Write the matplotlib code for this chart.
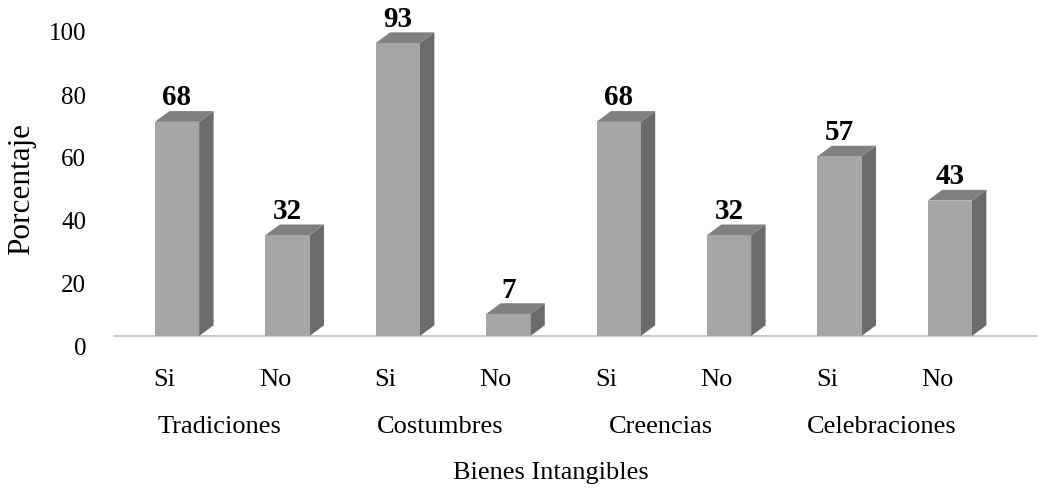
import matplotlib
matplotlib.use("Agg")
import matplotlib.pyplot as plt
from matplotlib.patches import Polygon
from matplotlib.transforms import ScaledTranslation, blended_transform_factory

categories = ["Si", "No", "Si", "No", "Si", "No", "Si", "No"]
groups = ["Tradiciones", "Costumbres", "Creencias", "Celebraciones"]
values = [68, 32, 93, 7, 68, 32, 57, 43]
yticks = [0, 20, 40, 60, 80, 100]

plt.rcParams['font.family'] = ['Liberation Serif', 'DejaVu Serif']

W, H, DPI = 1038, 489, 100
fig = plt.figure(figsize=(W / DPI, H / DPI), dpi=DPI)
ax = fig.add_axes([114 / W, (H - 337) / H, 923 / W, 315 / H])

front_c = "#a6a6a6"
side_c = "#6b6b6b"
top_c = "#808080"
bw = 0.40
dx = 0.131
dy = 3.4

xs = list(range(len(values)))
ax.bar(xs, values, width=bw, color=front_c, edgecolor="none", zorder=3)
for x, v in zip(xs, values):
    r = x + bw / 2
    l = x - bw / 2
    ax.add_patch(Polygon([(r, 0), (r + dx, dy), (r + dx, v + dy), (r, v)],
                         closed=True, facecolor=side_c, edgecolor="none", zorder=2))
    ax.add_patch(Polygon([(l, v), (l + dx, v + dy), (r + dx, v + dy), (r, v)],
                         closed=True, facecolor=top_c, edgecolor="none", zorder=2))
    ax.annotate(str(v), xy=(x, v + dy), xytext=(0, 0.5), textcoords="offset points",
                ha="center", va="bottom", fontsize=21, fontweight="bold",
                color="black", annotation_clip=False)

ax.set_xlim(-0.571, -0.571 + 923 / 110.4)
ax.set_ylim(0, 100)

for s in ["top", "right", "left"]:
    ax.spines[s].set_visible(False)
ax.spines["bottom"].set_color("#bfbfbf")
ax.spines["bottom"].set_linewidth(1.2)
ax.spines["bottom"].set_zorder(1)

ax.set_yticks(yticks)
ax.set_yticklabels([str(t) for t in yticks], fontsize=18)
ax.tick_params(axis="y", length=0, pad=20)
ax.tick_params(axis="x", length=0)
ax.set_xticks([])
off = ScaledTranslation(0, -10 / DPI, fig.dpi_scale_trans)
for lbl in ax.get_yticklabels():
    lbl.set_transform(lbl.get_transform() + off)

trans = blended_transform_factory(ax.transData, ax.transAxes)
shift = -12.5 / 110.4
for x, c in zip(xs, categories):
    ax.text(x + shift, -43 / 315, c, transform=trans, ha="center", va="center", fontsize=19)
for i, g in enumerate(groups):
    ax.text(2 * i + 0.5 + shift, -90 / 315, g, transform=trans, ha="center", va="center", fontsize=19)
ax.text(3.5 + shift, -136 / 315, "Bienes Intangibles", transform=trans,
        ha="center", va="center", fontsize=19)

fig.text(22 / W, 1 - 189 / H, "Porcentaje", rotation=90, ha="center", va="center", fontsize=22.5)

fig.savefig("out.png", dpi=DPI, facecolor="white")
